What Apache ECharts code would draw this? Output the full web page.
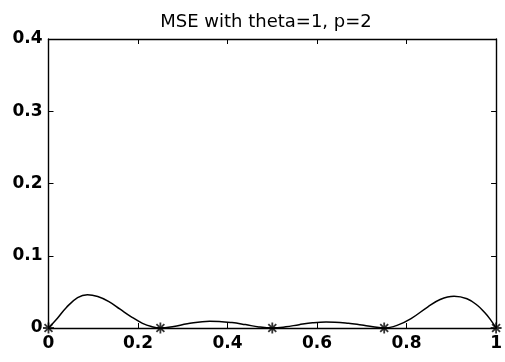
<!DOCTYPE html>
<html>
<head>
<meta charset="utf-8">
<script src="https://cdn.jsdelivr.net/npm/echarts@6/dist/echarts.min.js"></script>
<style>
  html, body { margin: 0; padding: 0; background: #fff; }
  #chart { width: 505px; height: 362px; }
</style>
</head>
<body>
<div id="chart"></div>
<script>
// Mean squared error along [0, 1]
const xs = [0, 0.02, 0.04, 0.065, 0.087, 0.11, 0.135, 0.16, 0.185, 0.21, 0.23,
            0.25, 0.28, 0.31, 0.36, 0.41, 0.44, 0.47,
            0.5, 0.53, 0.56, 0.59, 0.62, 0.67, 0.7, 0.725,
            0.75, 0.78, 0.81, 0.847, 0.875, 0.906, 0.935, 0.958, 0.975, 0.987, 1];
const mse = [0, 0.0135, 0.0285, 0.042, 0.046, 0.0435, 0.0365, 0.026, 0.0155, 0.0065, 0.002,
             0, 0.0022, 0.0058, 0.0093, 0.0075, 0.0047, 0.0015,
             0, 0.0016, 0.0046, 0.0072, 0.0084, 0.0066, 0.0040, 0.0018,
             0, 0.004, 0.013, 0.029, 0.0395, 0.044, 0.0405, 0.0315, 0.021, 0.012, 0];
// Interpolation nodes (error is zero there)
const nodeX = [0, 0.25, 0.5, 0.75, 1];
const nodeY = [0, 0, 0, 0, 0];

const fontFamily = '"DejaVu Sans", "Liberation Sans", Arial, sans-serif';
const fmtX = v => (Math.abs(v - 1) < 1e-9 ? '1' : (Math.abs(v) < 1e-9 ? '0' : String(+v.toFixed(1))));
const fmtY = v => (Math.abs(v) < 1e-9 ? '0' : String(+v.toFixed(1)));

// eight-armed asterisk marker, stroked
const asterisk = 'path://M0,-5L0,5M-5,0L5,0M-3.6,-3.6L3.6,3.6M-3.6,3.6L3.6,-3.6';

const chart = echarts.init(document.getElementById('chart'), null, { renderer: 'canvas' });

const tickStyle = { show: true, inside: true, length: 5, lineStyle: { color: '#000', width: 1 } };
const axisLineStyle = { show: true, onZero: false, lineStyle: { color: '#000', width: 1.4 } };
const labelStyle = { fontFamily, fontSize: 17, fontWeight: 'bold', color: '#000' };

chart.setOption({
  animation: false,
  backgroundColor: '#fff',
  title: {
    text: 'MSE with theta=1, p=2',
    left: 261, top: 8, textAlign: 'center',
    textStyle: { fontFamily, fontSize: 18, fontWeight: 'normal', color: '#000' }
  },
  grid: { left: 48.5, right: 6, top: 39, bottom: 34, containLabel: false },
  xAxis: [{
    type: 'value', min: 0, max: 1, interval: 0.2, position: 'bottom',
    axisLine: axisLineStyle, axisTick: tickStyle, splitLine: { show: false },
    axisLabel: Object.assign({ margin: 7, formatter: fmtX }, labelStyle)
  }, {
    type: 'value', min: 0, max: 1, interval: 0.2, position: 'top',
    axisLine: axisLineStyle, axisTick: tickStyle, splitLine: { show: false },
    axisLabel: { show: false }
  }],
  yAxis: [{
    type: 'value', min: 0, max: 0.4, interval: 0.1, position: 'left',
    axisLine: axisLineStyle, axisTick: tickStyle, splitLine: { show: false },
    axisLabel: Object.assign({ margin: 6, formatter: fmtY }, labelStyle)
  }, {
    type: 'value', min: 0, max: 0.4, interval: 0.1, position: 'right',
    axisLine: axisLineStyle, axisTick: tickStyle, splitLine: { show: false },
    axisLabel: { show: false }
  }],
  series: [{
    type: 'line',
    data: xs.map((x, i) => [x, mse[i]]),
    smooth: 0.4,
    showSymbol: false,
    lineStyle: { color: '#000', width: 1.5 },
    z: 3
  }, {
    type: 'scatter',
    data: nodeX.map((x, i) => [x, nodeY[i]]),
    symbol: asterisk,
    symbolSize: 11,
    itemStyle: { color: 'rgba(0,0,0,0)', borderColor: '#000', borderWidth: 1.8 },
    z: 4
  }]
});
</script>
</body>
</html>
